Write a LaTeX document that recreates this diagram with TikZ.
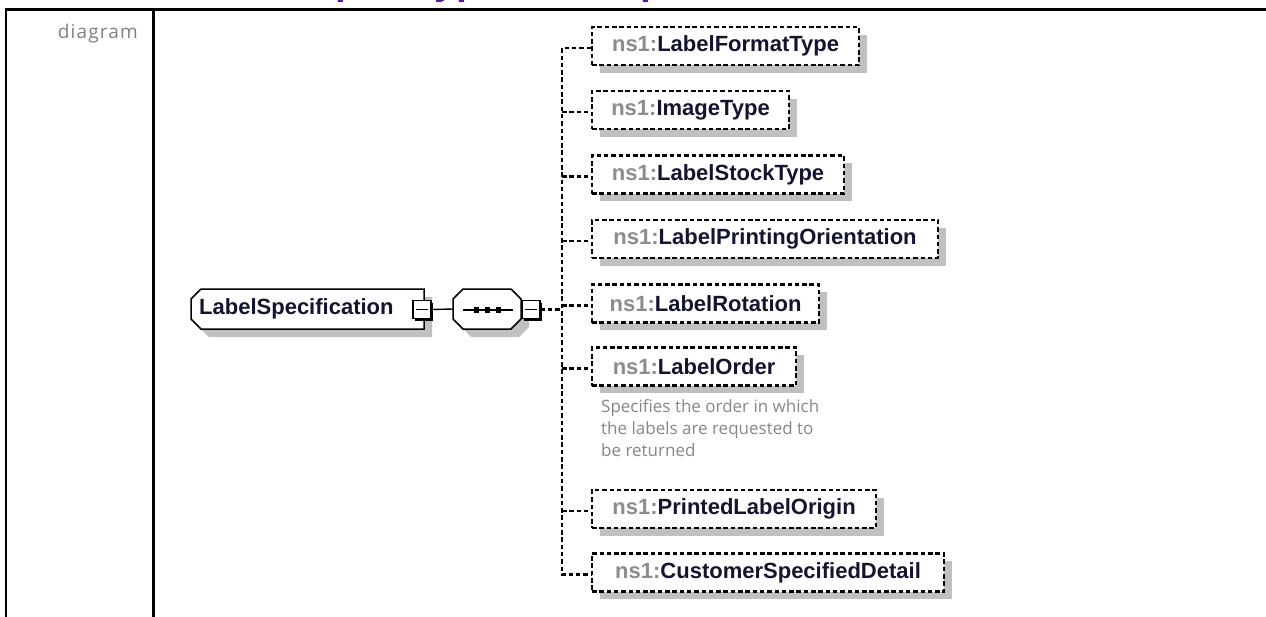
\documentclass[tikz,border=0pt]{standalone}
\usepackage{fontspec}
\setmainfont{Liberation Sans}
\newfontfamily\annfont{Open Sans}
\newfontfamily\diagfont[LetterSpace=6]{Open Sans}
\usetikzlibrary{shadows,calc}
\definecolor{shadowc}{RGB}{192,192,192}
\definecolor{nsgray}{RGB}{140,140,140}
\definecolor{namec}{RGB}{20,20,48}
\definecolor{headc}{RGB}{80,30,150}
\definecolor{anngray}{RGB}{135,135,135}
\definecolor{diaggray}{RGB}{128,128,128}
\newcommand{\nsname}[1]{{\color{nsgray}ns1:}#1}
\begin{document}
\begin{tikzpicture}[x=1pt,y=-1pt,
  grayshadow/.style={drop shadow={shadow xshift=7.5pt, shadow yshift=-7.5pt, fill=shadowc, opacity=1}},
  optbox/.style={draw, line width=2.1pt, dash pattern=on 4.5pt off 2.8pt, fill=white,
    minimum height=38pt, inner sep=0pt, text=namec,
    font=\fontsize{22}{26}\selectfont\bfseries, grayshadow},
  anchorbox/.style={rectangle, draw=none, inner sep=0pt},
  shapeline/.style={draw=black, line width=1.5pt, fill=white, line join=miter},
  minusbox/.style={rectangle, draw, line width=1.2pt, fill=white, minimum size=18pt, inner sep=0pt,
    drop shadow={shadow xshift=2pt, shadow yshift=-2pt, fill=black, opacity=1}},
  solidline/.style={line width=1.4pt},
  dashline/.style={line width=2.1pt, dash pattern=on 4.5pt off 2.8pt},
  frameline/.style={line width=3pt, black}]
\useasboundingbox (0,0) rectangle (1266,616);

% heading (cut off at top)
\begin{scope}
\clip (0,0) rectangle (1266,616);
\node[anchor=base west, inner sep=0pt, text=headc, font=\fontsize{39}{39}\selectfont\bfseries] (head) at (255,-5.5) {complexType LabelSpecification};
\end{scope}

% frame
\draw[frameline] (4.5,9.8) -- (1270,9.8);
\draw[line width=2.7pt] (6,8.3) -- (6,620);
\draw[frameline] (153.3,8.3) -- (153.3,620);
\node[anchor=base east, inner sep=0pt, text=diaggray, font=\diagfont\fontsize{19}{22}\selectfont] (diag) at (138,38.3) {diagram};

% root element (left corners chamfered)
\fill[shadowc] (209,297) -- (432,297) -- (432,337) -- (209,337) -- (199,327) -- (199,307) -- cycle;
\path[shapeline] (201,289) -- (424,289) -- (424,329) -- (201,329) -- (191,319) -- (191,299) -- cycle;
\node[anchorbox, minimum width=233pt, minimum height=40pt] (root) at (307.5,309) {};
\node[anchor=west, inner sep=0pt, text=namec, font=\fontsize{22}{26}\selectfont\bfseries] (rootlbl) at (199,309) {LabelSpecification};
\node[minusbox] (em) at (422,309.5) {};
\draw[line width=1.3pt] ($(em.center)+(-6,0)$) -- ($(em.center)+(6,0)$);

% sequence compositor (octagon)
\fill[shadowc] (471,297) -- (519,297) -- (529,307) -- (529,327) -- (519,337) -- (471,337) -- (461,327) -- (461,307) -- cycle;
\path[shapeline] (463,289) -- (511,289) -- (521,299) -- (521,319) -- (511,329) -- (463,329) -- (453,319) -- (453,299) -- cycle;
\node[anchorbox, minimum width=68pt, minimum height=40pt] (seq) at (487,309) {};
\draw[line width=1.3pt] ($(seq.center)+(-24,1)$) -- ($(seq.center)+(26,1)$);
\foreach \dx in {-10.5,0.5,11.5}
  \fill ($(seq.center)+(\dx,1)+(-2.6,-2.6)$) rectangle ($(seq.center)+(\dx,1)+(2.6,2.6)$);
\node[minusbox] (sm) at (531,309.5) {};
\draw[line width=1.3pt] ($(sm.center)+(-6,0)$) -- ($(sm.center)+(6,0)$);

% children
\node[optbox, minimum width=267pt, anchor=west] (c1) at (591,46) {\nsname{LabelFormatType}};
\node[optbox, minimum width=197pt, anchor=west] (c2) at (591,110) {\nsname{ImageType}};
\node[optbox, minimum width=252pt, anchor=west] (c3) at (591,174.5) {\nsname{LabelStockType}};
\node[optbox, minimum width=346pt, anchor=west] (c4) at (591,239) {\nsname{LabelPrintingOrientation}};
\node[optbox, minimum width=227pt, anchor=west] (c5) at (591,303.5) {\nsname{LabelRotation}};
\node[optbox, minimum width=204pt, anchor=west] (c6) at (591,366.5) {\nsname{LabelOrder}};
\node[optbox, minimum width=284pt, anchor=west] (c7) at (591,509) {\nsname{PrintedLabelOrigin}};
\node[optbox, minimum width=352pt, anchor=west] (c8) at (591,572.5) {\nsname{CustomerSpecifiedDetail}};

\node[anchor=north west, inner sep=0pt, align=left, text=anngray, font=\annfont\fontsize{17}{22}\selectfont] (ann) at (601,399) {Specifies the order in which\\the labels are requested to\\be returned};

% connectors
\coordinate (bus) at ($(c1.west)+(-29,0)$);
\draw[solidline] (em.east) -- (seq.west);
\draw[dashline] (sm.east) -- (sm.east -| bus);
\draw[dashline] ($(c1.west)+(0,2)$) -| ($(c8.west)+(-29,2)$) -- ($(c8.west)+(0,2)$);
\foreach \c in {c2,c3,c4,c5,c6,c7}
  \draw[dashline] ($(\c.west)+(-29,2)$) -- ($(\c.west)+(0,2)$);
\end{tikzpicture}
\end{document}
